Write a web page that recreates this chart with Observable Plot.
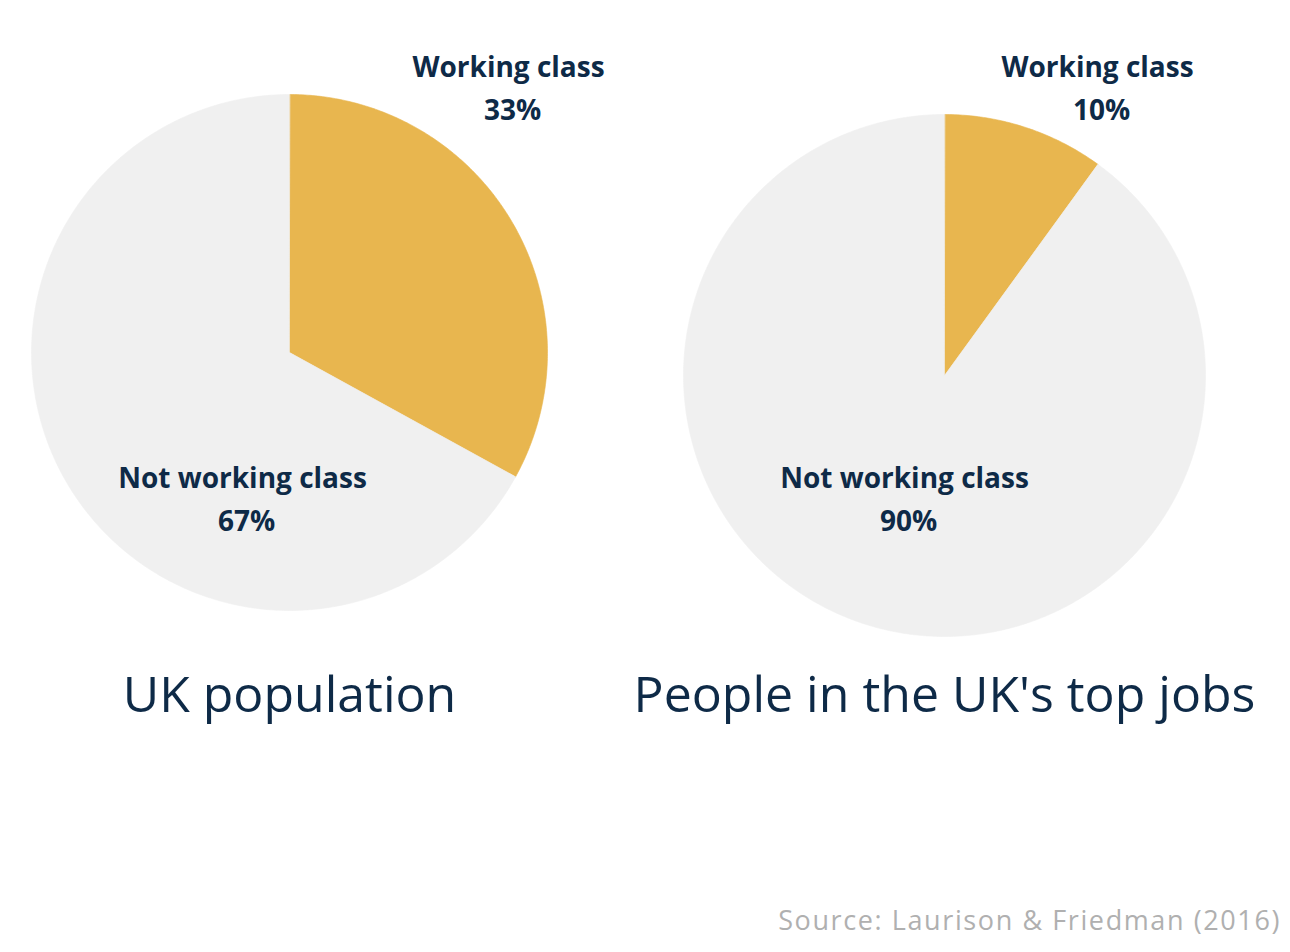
<!DOCTYPE html>
<html>
<head>
<meta charset="utf-8">
<script src="https://cdn.jsdelivr.net/npm/d3@7"></script>
<script src="https://cdn.jsdelivr.net/npm/@observablehq/plot@0.6"></script>
<style>
  body { margin: 0; background: #fff; font-family: "Open Sans", sans-serif; }
  #chart svg { display: block; }
  #source { width: 1290px; box-sizing: border-box; text-align: right; padding-right: 9px;
            font-size: 27px; line-height: 40px; color: #b0b0b0; font-weight: 400; letter-spacing: 1.6px; }
</style>
</head>
<body>
<div id="chart"></div>
<div id="source">Source: Laurison &amp; Friedman (2016)</div>
<script>
// ---- data ----
const chartTitles = ["UK population", "People in the UK's top jobs"];
const categories = ["Working class", "Not working class"];
const ukPopulation = [33, 67];
const topJobs = [10, 90];
const colors = ["#E8B64F", "#F0F0F0"];

// ---- layout ----
const W = 1290, H = 900;
const layout = [
  {cx: 289, cy: 352, r: 258, titleY: 695,
   labels: [{x: 508, y: 68}, {x: 242, y: 479}]},
  {cx: 944, cy: 375, r: 261, titleY: 695,
   labels: [{x: 1097, y: 68}, {x: 904, y: 479}]}
];
const series = [ukPopulation, topJobs];

const slices = [];
const labels = [];
const titles = [];
series.forEach((vals, i) => {
  const L = layout[i];
  const arcs = d3.pie().sort(null)(vals);
  arcs.forEach((a, j) => {
    const key = chartTitles[i] + "|" + categories[j];
    slices.push({key, cat: categories[j], x: L.cx, y: L.cy});
    const n = Math.max(4, Math.ceil((a.endAngle - a.startAngle) / 0.01));
    for (let k = 0; k <= n; k++) {
      const t = a.startAngle + (a.endAngle - a.startAngle) * k / n;
      slices.push({key, cat: categories[j], x: L.cx + L.r * Math.sin(t), y: L.cy - L.r * Math.cos(t)});
    }
    labels.push({x: L.labels[j].x, y: L.labels[j].y, text: categories[j]});
    labels.push({x: L.labels[j].x + 4, y: L.labels[j].y + 43, text: vals[j] + "%"});
  });
  titles.push({x: L.cx, y: L.titleY, text: chartTitles[i]});
});

const plot = Plot.plot({
  width: W, height: H,
  margin: 0,
  x: {type: "linear", domain: [0, W], range: [0, W], axis: null},
  y: {type: "linear", domain: [0, H], range: [0, H], axis: null},
  color: {domain: categories, range: colors},
  style: {fontFamily: "'Open Sans', sans-serif", background: "#fff"},
  marks: [
    Plot.line(slices, {x: "x", y: "y", z: "key", fill: "cat", stroke: "cat", strokeWidth: 0.6, curve: "linear-closed"}),
    Plot.text(labels, {x: "x", y: "y", text: "text", fontSize: 28, fontWeight: 700, fill: "#0E2A47", textAnchor: "middle", ariaLabel: "slice-labels"}),
    Plot.text(titles, {x: "x", y: "y", text: "text", fontSize: 50, fontWeight: 400, fill: "#0E2A47", textAnchor: "middle", ariaLabel: "pie-titles"})
  ]
});
d3.select(plot).selectAll('g[aria-label="slice-labels"] text').style("letter-spacing", "1px");
d3.select(plot).selectAll('g[aria-label="pie-titles"] text').style("letter-spacing", "1.3px");
document.getElementById("chart").appendChild(plot);
</script>
</body>
</html>
